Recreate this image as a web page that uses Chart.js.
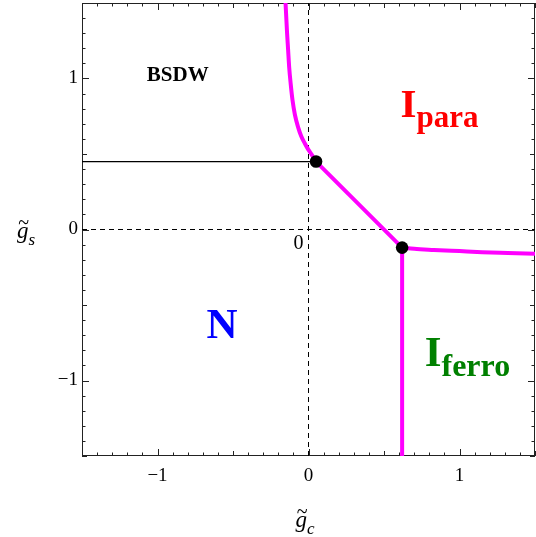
<!DOCTYPE html>
<html>
<head>
<meta charset="utf-8">
<script src="https://cdn.jsdelivr.net/npm/chart.js@4/dist/chart.umd.min.js"></script>
<style>
html,body{margin:0;padding:0;background:#fff;}
canvas{display:block;}
</style>
</head>
<body>
<canvas id="c" width="536" height="537"></canvas>
<script>
// ---- data ----
const axisMin = -1.5;
const axisMax = 1.5;
const majorTicks = [-1, 0, 1];
const upperBranchX = [-0.152, -0.147, -0.142, -0.135, -0.128, -0.118, -0.106, -0.090, -0.069, -0.048, -0.025, 0.000, 0.020, 0.050];
const upperBranchY = [1.500, 1.400, 1.302, 1.190, 1.076, 0.965, 0.857, 0.760, 0.678, 0.617, 0.571, 0.527, 0.498, 0.450];
const diagonalX = [0.05, 0.62];
const diagonalY = [0.45, -0.12];
const rightBranchX = [0.62, 0.70, 0.83, 1.00, 1.15, 1.32, 1.50];
const rightBranchY = [-0.120, -0.128, -0.135, -0.143, -0.150, -0.155, -0.160];
const ferroEdgeX = [0.62, 0.62];
const ferroEdgeY = [-0.12, -1.5];
const bsdwEdgeX = [-1.5, 0.05];
const bsdwEdgeY = [0.45, 0.45];
const pointsX = [0.05, 0.62];
const pointsY = [0.45, -0.12];
const dashXaxisX = [-1.5, 1.5];
const dashXaxisY = [0, 0];
const dashYaxisX = [0, 0];
const dashYaxisY = [-1.5, 1.5];

const zip = (xs, ys) => xs.map((x, i) => ({x: x, y: ys[i]}));

// region labels (data coordinates of text start / baseline)
const regionLabels = [
  {main: 'BSDW', sub: '', x: -1.071, y: 0.983, color: '#000000', size: 21, subSize: 0},
  {main: 'I', sub: 'para', x: 0.609, y: 0.746, color: '#ff0000', size: 41, subSize: 31},
  {main: 'N', sub: '', x: -0.675, y: -0.718, color: '#0000ff', size: 43, subSize: 0},
  {main: 'I', sub: 'ferro', x: 0.770, y: -0.904, color: '#008000', size: 43, subSize: 32}
];

const SERIF = '"Liberation Serif", "Times New Roman", serif';

const decorPlugin = {
  id: 'decor',
  beforeDatasetsDraw(chart) {
    const ctx = chart.ctx, a = chart.chartArea;
    ctx.save();
    ctx.strokeStyle = '#222';
    ctx.lineWidth = 1;
    ctx.strokeRect(a.left + 0.5, a.top + 0.5, a.right - a.left - 1, a.bottom - a.top - 1);
    const xs = chart.scales.x, ys = chart.scales.y;
    const tickLen = (v) => {
      const r = Math.round(v * 10);
      if (r % 10 === 0) return 7;
      if (r % 5 === 0) return 5;
      return 3.5;
    };
    ctx.beginPath();
    xs.ticks.forEach(t => {
      const px = Math.round(xs.getPixelForValue(t.value)) + 0.5;
      const L = tickLen(t.value);
      ctx.moveTo(px, a.bottom); ctx.lineTo(px, a.bottom - L);
      ctx.moveTo(px, a.top); ctx.lineTo(px, a.top + L);
    });
    ys.ticks.forEach(t => {
      const py = Math.round(ys.getPixelForValue(t.value)) + 0.5;
      const L = tickLen(t.value);
      ctx.moveTo(a.left, py); ctx.lineTo(a.left + L, py);
      ctx.moveTo(a.right, py); ctx.lineTo(a.right - L, py);
    });
    ctx.stroke();
    ctx.restore();
  },
  afterDatasetsDraw(chart) {
    const ctx = chart.ctx;
    const xs = chart.scales.x, ys = chart.scales.y;
    ctx.save();
    ctx.textBaseline = 'alphabetic';
    ctx.textAlign = 'left';
    regionLabels.forEach(l => {
      const px = xs.getPixelForValue(l.x), py = ys.getPixelForValue(l.y);
      ctx.fillStyle = l.color;
      ctx.font = 'bold ' + l.size + 'px ' + SERIF;
      ctx.fillText(l.main, px, py);
      if (l.sub) {
        const w = ctx.measureText(l.main).width;
        ctx.font = 'bold ' + l.subSize + 'px ' + SERIF;
        ctx.fillText(l.sub, px + w, py + 10);
      }
    });
    ctx.fillStyle = '#000';
    ctx.font = '20px ' + SERIF;
    ctx.textAlign = 'right';
    ctx.fillText('0', xs.getPixelForValue(0) - 5, ys.getPixelForValue(0) + 19);
    ctx.restore();
  },
  afterDraw(chart) {
    const ctx = chart.ctx;
    const xs = chart.scales.x, ys = chart.scales.y;
    ctx.save();
    ctx.fillStyle = '#000';
    ctx.textAlign = 'left';
    ctx.textBaseline = 'alphabetic';
    const drawTitle = (gx, gy, sub) => {
      ctx.font = 'italic 23px ' + SERIF;
      ctx.fillText('g', gx, gy);
      const gw = ctx.measureText('g').width;
      ctx.font = '20px ' + SERIF;
      const tw = ctx.measureText('~').width;
      ctx.fillText('~', gx + gw / 2 - tw / 2 + 1, gy - 9);
      ctx.font = 'italic 17px ' + SERIF;
      ctx.fillText(sub, gx + gw, gy + 7);
    };
    const cx = (xs.left + xs.right) / 2;
    drawTitle(cx - 13, 527, 'c');
    drawTitle(17, ys.getPixelForValue(0) + 8, 's');
    ctx.restore();
  }
};

const tickCallback = (v) => {
  if (Math.abs(v - Math.round(v)) < 1e-6 && majorTicks.includes(Math.round(v))) {
    const r = Math.round(v);
    return r < 0 ? '\u2212' + Math.abs(r) : String(r);
  }
  return '';
};

const noPad = (s) => { s.paddingTop = 0; s.paddingBottom = 0; s.paddingLeft = 0; s.paddingRight = 0; };

const magenta = '#ff00ff';
const lineDs = (data, color, width, dash) => ({
  data: data, showLine: true, borderColor: color, borderWidth: width,
  borderDash: dash || [], pointRadius: 0, fill: false, tension: 0,
  borderCapStyle: 'butt', borderJoinStyle: 'round'
});

new Chart(document.getElementById('c'), {
  type: 'scatter',
  data: {
    datasets: [
      {data: zip(pointsX, pointsY), pointRadius: 6.3, pointBackgroundColor: '#000', pointBorderColor: '#000', pointBorderWidth: 0, showLine: false},
      Object.assign(lineDs(zip(upperBranchX, upperBranchY), magenta, 4), {cubicInterpolationMode: 'monotone'}),
      lineDs(zip(diagonalX, diagonalY), magenta, 4),
      Object.assign(lineDs(zip(rightBranchX, rightBranchY), magenta, 4), {cubicInterpolationMode: 'monotone'}),
      lineDs(zip(ferroEdgeX, ferroEdgeY), magenta, 4),
      lineDs(zip(bsdwEdgeX, bsdwEdgeY), '#000', 1.2),
      lineDs(zip(dashXaxisX, dashXaxisY), '#000', 1, [5, 4]),
      lineDs(zip(dashYaxisX, dashYaxisY), '#000', 1, [5, 4])
    ]
  },
  options: {
    responsive: false,
    animation: false,
    devicePixelRatio: 1,
    layout: {autoPadding: false, padding: {left: 0, right: 1, top: 3, bottom: 0}},
    plugins: {legend: {display: false}, tooltip: {enabled: false}},
    scales: {
      x: {
        type: 'linear', min: axisMin, max: axisMax,
        grid: {display: false, drawTicks: false},
        border: {display: false},
        ticks: {stepSize: 0.1, autoSkip: false, maxRotation: 0, minRotation: 0, padding: 9,
                color: '#000', font: {family: SERIF, size: 19}, callback: tickCallback},
        afterFit(s) { s.height = 81; noPad(s); }
      },
      y: {
        type: 'linear', min: axisMin, max: axisMax,
        grid: {display: false, drawTicks: false},
        border: {display: false},
        ticks: {stepSize: 0.1, autoSkip: false, padding: 4,
                color: '#000', font: {family: SERIF, size: 19}, callback: tickCallback},
        afterFit(s) { s.width = 82; noPad(s); }
      }
    }
  },
  plugins: [decorPlugin]
});
</script>
</body>
</html>
